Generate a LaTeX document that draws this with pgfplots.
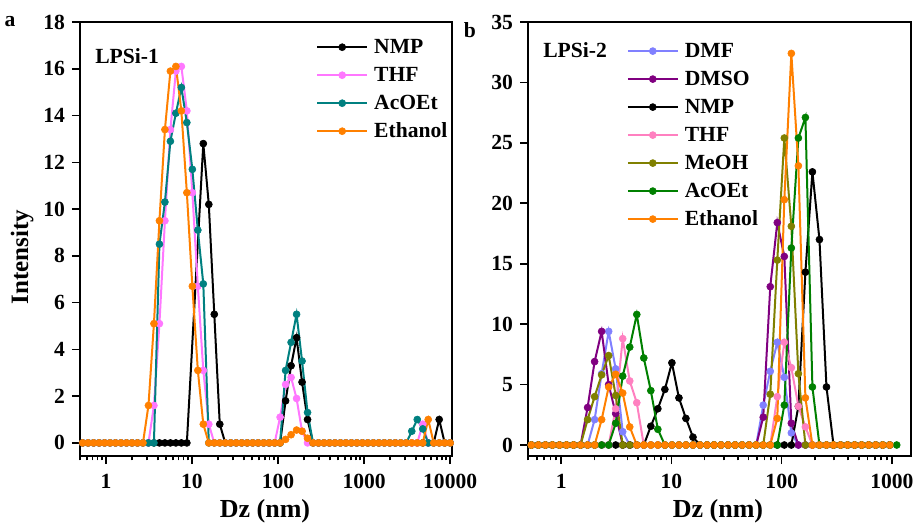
\documentclass[border=0pt]{standalone}
\usepackage{pgfplots}
\pgfplotsset{compat=1.18}
\usepackage{pgfplotstable}
\usepackage{fontspec}
\setmainfont{Liberation Serif}

\definecolor{cTHFa}{RGB}{255,119,255}
\definecolor{cteal}{RGB}{0,128,128}
\definecolor{corange}{RGB}{255,128,0}
\definecolor{cDMF}{RGB}{128,128,255}
\definecolor{cDMSO}{RGB}{128,0,128}
\definecolor{cTHFb}{RGB}{255,128,192}
\definecolor{colive}{RGB}{128,128,0}
\definecolor{cgreen}{RGB}{0,128,0}

\pgfplotstableread{
D NMP THF AcOEt EtOH
0.4632 0 0 0 0
0.5365 0 0 0 0
0.6213 0 0 0 0
0.7195 0 0 0 0
0.8332 0 0 0 0
0.9649 0 0 0 0
1.117 0 0 0 0
1.294 0 0 0 0
1.499 0 0 0 0
1.736 0 0 0 0
2.010 0 0 0 0
2.328 0 0 0 0
2.696 0 0 0 0
3.122 0 0 0 1.6
3.615 0 1.6 0 5.1
4.187 0 5.1 8.5 9.5
4.849 0 9.5 10.3 13.4
5.615 0 13.4 12.9 15.9
6.503 0 15.9 14.1 16.1
7.531 0 16.1 15.2 14.2
8.721 0 14.2 13.7 10.7
10.10 nan 10.7 11.7 6.7
11.70 nan 6.7 9.1 3.1
13.54 12.8 3.1 6.8 0.8
15.69 10.2 0.8 0 0
18.17 5.5 0 0 0
21.04 0.8 0 0 0
24.36 0 0 0 0
28.21 0 0 0 0
32.67 0 0 0 0
37.84 0 0 0 0
43.82 0 0 0 0
50.75 0 0 0 0
58.77 0 0 0 0
68.06 0 0 0 0
78.82 0 0 0 0
91.28 0 0 0 0
105.7 0 1.1 0 0
122.4 1.8 2.5 3.1 0.15
141.8 3.3 2.8 4.3 0.35
164.2 4.5 1.9 5.5 0.55
190.1 2.6 0.5 3.5 0.5
220.2 1.0 0 1.3 0.2
255.0 0 0 0 0
295.3 0 0 0 0
342.0 0 0 0 0
396.1 0 0 0 0
458.7 0 0 0 0
531.2 0 0 0 0
615.1 0 0 0 0
712.4 0 0 0 0
825.0 0 0 0 0
955.4 0 0 0 0
1106 0 0 0 0
1281 0 0 0 0
1484 0 0 0 0
1718 0 0 0 0
1990 0 0 0 0
2305 0 0 0 0
2669 0 0 0 0
3091 0 0 0 0
3580 0 0 0.5 0
4145 0 0 1.0 0
4801 0 0.8 0.6 0
5560 0 0 0 1.0
6439 0 0 0 0
7456 1.0 0 0 0
8635 0 0 0 0
10000 0 0 0 0
}\tabA

\pgfplotstableread{
D DMF DMSO NMP THF MeOH AcOEt EtOH
0.4632 0 0 0 0 0 0 0
0.5365 0 0 0 0 0 0 0
0.6213 0 0 0 0 0 0 0
0.7195 0 0 0 0 0 0 0
0.8332 0 0 0 0 0 0 0
0.9649 0 0 0 0 0 0 0
1.117 0 0 0 0 0 0 0
1.294 0 0 0 0 0 0 0
1.499 0 0 0 0 0 0 0
1.736 0 3.1 0 0 2.1 0 0
2.010 2.1 6.9 0 0 4.0 0 0
2.328 5.9 9.4 0 0 5.8 0 2.1
2.696 9.4 5.0 0 0 7.4 0 4.8
3.122 6.3 2.6 0 3.0 4.1 1.8 5.85
3.615 1.1 0 0 8.8 0 5.7 4.3
4.187 0 0 0 5.3 0 8.1 1.5
4.849 0 0 0 3.5 0 10.8 0
5.615 0 0 0 0 0 7.2 0
6.503 0 0 1.55 0 0 4.5 0
7.531 0 0 3.0 0 0 1.3 0
8.721 0 0 4.6 0 0 0 0
10.10 0 0 6.8 0 0 0 0
11.70 0 0 3.9 0 0 0 0
13.54 0 0 2.2 0 0 0 0
15.69 0 0 0.65 0 0 0 0
18.17 0 0 0 0 0 0 0
21.04 0 0 0 0 0 0 0
24.36 0 0 0 0 0 0 0
28.21 0 0 0 0 0 0 0
32.67 0 0 0 0 0 0 0
37.84 0 0 0 0 0 0 0
43.82 0 0 0 0 0 0 0
50.75 0 0 0 0 0 0 0
58.77 0 0 0 0 0 0 0
68.06 3.3 2.3 0 0 0 0 0
78.82 6.1 13.1 0 0 4.2 0 0
91.28 8.5 18.4 0 4.0 15.3 0 2.2
105.7 5.6 15.6 0 8.5 25.4 3.3 20.3
122.4 1.0 1.8 0 6.4 18.1 16.3 32.4
141.8 0 0 3.2 3.2 5.9 25.4 23.1
164.2 0 0 14.3 1.5 0 27.1 3.9
190.1 0 0 22.6 0 0 4.8 0
220.2 0 0 17.0 0 0 0 0
255.0 0 0 4.8 0 0 0 0
295.3 0 0 0 0 0 0 0
342.0 0 0 0 0 0 0 0
396.1 0 0 0 0 0 0 0
458.7 0 0 0 0 0 0 0
531.2 0 0 0 0 0 0 0
615.1 0 0 0 0 0 0 0
712.4 0 0 0 0 0 0 0
825.0 0 0 0 0 0 0 0
955.4 0 0 0 0 0 0 0
1106 nan nan nan nan nan 0 nan
}\tabB

\newcommand{\tfont}{\fontsize{10.8}{12}\selectfont\bfseries}
\newcommand{\lfont}{\fontsize{13}{15}\selectfont\bfseries}

\pgfplotsset{
  dls/.style={
    scale only axis,
    axis line style={line width=1pt},
    every tick/.style={black, line width=0.8pt},
    tick align=outside, xtick pos=bottom, ytick pos=left,
    major tick length=4pt, minor tick length=2.2pt,
    ticklabel style={font=\tfont},
    xticklabel style={yshift=-1.5pt},
    /pgf/number format/assume math mode=true,
    every axis plot/.append style={line width=1pt, mark=*, mark size=1.75pt, mark options={solid, line width=0.3pt}},
    legend style={draw=none, fill=none, font=\tfont, anchor=north west, inner sep=0pt, outer sep=0pt,
      nodes={inner sep=0pt, text height=8pt, text depth=2pt}, row sep=4pt,
      /tikz/every odd column/.style={column sep=3pt}},
    legend cell align=left,
    legend image code/.code={\draw[mark repeat=2,mark phase=2,##1] plot coordinates {(0pt,0pt) (12.5pt,0pt) (25pt,0pt)};},
  }
}

\begin{document}
\begin{tikzpicture}
\useasboundingbox (0,0) rectangle (458.5pt,263.5pt);

\begin{semilogxaxis}[dls, at={(40pt,35.5pt)}, anchor=south west,
  width=186pt, height=217pt,
  xmin=0.5, xmax=10500, ymin=-0.56, ymax=18,
  ytick={0,2,...,18},
  xtick={1,10,100,1000,10000}, xticklabels={1,10,100,1000,10000},
  minor xtick={0.5,0.6,0.7,0.8,0.9,2,3,4,5,6,7,8,9,20,30,40,50,60,70,80,90,200,300,400,500,600,700,800,900,2000,3000,4000,5000,6000,7000,8000,9000},
  legend style={at={(rel axis cs:0.635,0.965)}},
]
\addplot[black] table[x=D,y=NMP] {\tabA};
\addlegendentry{NMP}
\addplot[cTHFa] table[x=D,y=THF] {\tabA};
\addlegendentry{THF}
\addplot[cteal] table[x=D,y=AcOEt] {\tabA};
\addlegendentry{AcOEt}
\addplot[corange] table[x=D,y=EtOH] {\tabA};
\addlegendentry{Ethanol}
\node[anchor=west, font=\tfont, inner sep=0pt] at (rel axis cs:0.04,0.922) {LPSi-1};
\end{semilogxaxis}

\begin{semilogxaxis}[dls, at={(264pt,35.5pt)}, anchor=south west,
  width=191.5pt, height=217pt,
  xmin=0.5, xmax=1490, ymin=-0.91, ymax=35,
  ytick={0,5,...,35},
  xtick={1,10,100,1000}, xticklabels={1,10,100,1000},
  minor xtick={0.5,0.6,0.7,0.8,0.9,2,3,4,5,6,7,8,9,20,30,40,50,60,70,80,90,200,300,400,500,600,700,800,900},
  legend style={at={(rel axis cs:0.258,0.956)}},
]
\addplot[cDMF] table[x=D,y=DMF] {\tabB};
\addlegendentry{DMF}
\addplot[cDMSO] table[x=D,y=DMSO] {\tabB};
\addlegendentry{DMSO}
\addplot[black] table[x=D,y=NMP] {\tabB};
\addlegendentry{NMP}
\addplot[cTHFb] table[x=D,y=THF] {\tabB};
\addlegendentry{THF}
\addplot[colive] table[x=D,y=MeOH] {\tabB};
\addlegendentry{MeOH}
\addplot[cgreen] table[x=D,y=AcOEt] {\tabB};
\addlegendentry{AcOEt}
\addplot[corange] table[x=D,y=EtOH] {\tabB};
\addlegendentry{Ethanol}
\node[anchor=west, font=\tfont, inner sep=0pt] at (rel axis cs:0.039,0.935) {LPSi-2};
\end{semilogxaxis}

\node[font=\tfont] at (5pt,252.5pt) {a};
\node[font=\tfont] at (235pt,248.5pt) {b};
\node[font=\fontsize{12.5}{14}\selectfont\bfseries, rotate=90, anchor=base] at (14pt,135pt) {Intensity};
\node[font=\lfont, anchor=base] at (132.5pt,5pt) {Dz (nm)};
\node[font=\lfont, anchor=base] at (359pt,5pt) {Dz (nm)};
\end{tikzpicture}
\end{document}
